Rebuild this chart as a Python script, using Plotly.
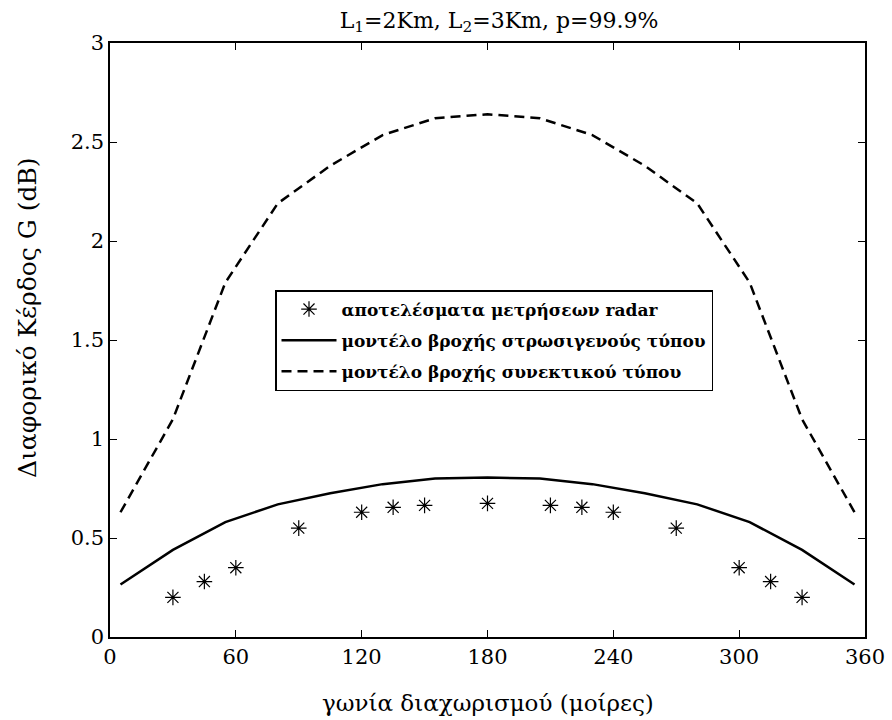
import plotly.graph_objects as go

# Separation angle (degrees) for the two rain-model curves
model_angle = [5, 30, 55, 80, 105, 130, 155, 180, 205, 230, 255, 280, 305, 330, 355]
# Stratiform rain model
stratiform_gain = [0.265, 0.44, 0.58, 0.67, 0.726, 0.772, 0.80, 0.805,
                   0.80, 0.772, 0.726, 0.67, 0.58, 0.44, 0.265]
# Convective rain model
convective_gain = [0.63, 1.10, 1.79, 2.19, 2.38, 2.535, 2.62, 2.64,
                   2.62, 2.535, 2.38, 2.19, 1.79, 1.10, 0.63]

# Radar measurement results
radar_angle = [30, 45, 60, 90, 120, 135, 150, 180, 210, 225, 240, 270, 300, 315, 330]
radar_gain = [0.20, 0.28, 0.35, 0.55, 0.63, 0.655, 0.665, 0.675,
              0.665, 0.655, 0.63, 0.55, 0.35, 0.28, 0.20]

x_ticks = [0, 60, 120, 180, 240, 300, 360]
y_ticks = [0, 0.5, 1, 1.5, 2, 2.5, 3]
y_tick_text = ["0", "0.5", "1", "1.5", "2", "2.5", "3"]

serif = "DejaVu Serif"

fig = go.Figure()
fig.add_trace(go.Scatter(
    x=radar_angle, y=radar_gain, mode="markers",
    name="αποτελέσματα μετρήσεων radar", legendgroup="a",
    marker=dict(symbol="asterisk-open", size=13, color="black",
                line=dict(color="black", width=1.2)),
))
fig.add_trace(go.Scatter(
    x=model_angle, y=stratiform_gain, mode="lines",
    name="μοντέλο βροχής στρωσιγενούς τύπου", legendgroup="b",
    line=dict(color="black", width=2.5),
))
fig.add_trace(go.Scatter(
    x=model_angle, y=convective_gain, mode="lines",
    name="μοντέλο βροχής συνεκτικού τύπου", legendgroup="c",
    line=dict(color="black", width=2.5, dash="10px,6px"),
))

axis_common = dict(
    showline=True, linecolor="black", linewidth=1.5, mirror="ticks",
    ticks="inside", ticklen=7, tickwidth=1, tickcolor="black",
    showgrid=False, zeroline=False, automargin=False,
    tickfont=dict(family=serif, size=21, color="black"),
)

fig.update_layout(
    width=892, height=720,
    margin=dict(l=110, r=27, t=43, b=83),
    paper_bgcolor="white", plot_bgcolor="white",
    title=dict(text="L<sub>1</sub>=2Km, L<sub>2</sub>=3Km, p=99.9%",
               x=499 / 892, xanchor="center",
               y=1 - 20 / 720, yanchor="middle",
               font=dict(family=serif, size=22, color="black")),
    xaxis=dict(range=[0, 360], tickvals=x_ticks, **axis_common),
    yaxis=dict(range=[0, 3], tickvals=y_ticks, ticktext=y_tick_text,
               **axis_common),
    annotations=[
        dict(text="γωνία διαχωρισμού (μοίρες)",
             xref="paper", yref="paper",
             x=0.5, y=-(703 - 637) / 594,
             xanchor="center", yanchor="middle", showarrow=False,
             font=dict(family=serif, size=23, color="black")),
        dict(text="Διαφορικό Κέρδος G (dB)", textangle=-90,
             xref="paper", yref="paper",
             x=(28 - 110) / 755, y=(637 - 318) / 594,
             xanchor="center", yanchor="middle", showarrow=False,
             font=dict(family=serif, size=25, color="black")),
    ],
    legend=dict(x=(275 - 110) / 755, y=(637 - 290) / 594,
                xanchor="left", yanchor="top",
                bordercolor="black", borderwidth=1.5, bgcolor="white",
                font=dict(family=serif, size=17, color="black", weight="bold"),
                itemwidth=55, tracegroupgap=6),
    showlegend=True,
)

fig.write_html("out.html")
